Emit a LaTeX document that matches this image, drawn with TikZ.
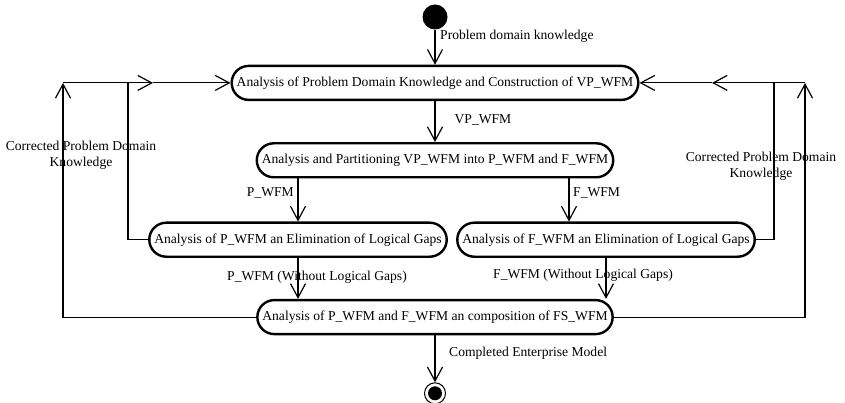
\documentclass[tikz,border=0pt]{standalone}
\usepackage{fontspec}
\setmainfont{Liberation Serif}
\usetikzlibrary{positioning, arrows.meta}

\begin{document}
\begin{tikzpicture}[x=1pt, y=1pt,
  act/.style={draw, line width=2.4pt, rounded corners=17pt, minimum height=34pt, inner xsep=5pt, font=\fontsize{13.6}{16}\selectfont},
  flow/.style={line width=1.2pt, -{Straight Barb[length=14pt, width=15pt]}},
  link/.style={line width=1.2pt},
  lbl/.style={inner sep=0pt, font=\fontsize{13.6}{16}\selectfont, align=center}]
  \useasboundingbox (0,0) rectangle (845,-403);

  \node[circle, fill, minimum size=25pt, inner sep=0pt] (start) at (435,-17) {};
  \node[act, below=35pt of start] (vp) {Analysis of Problem Domain Knowledge and Construction of VP\_WFM};
  \node[act, below=41pt of vp] (part) {Analysis and Partitioning VP\_WFM into P\_WFM and F\_WFM};
  \node[act, below=43pt of part, xshift=-137pt] (pgap) {Analysis of P\_WFM an Elimination of Logical Gaps};
  \node[act, below=43pt of part, xshift=171pt] (fgap) {Analysis of F\_WFM an Elimination of Logical Gaps};
  \coordinate (mid) at (pgap.south -| part.south);
  \node[act, below=41pt of mid] (fs) {Analysis of P\_WFM and F\_WFM an composition of FS\_WFM};
  \node[circle, draw, line width=1pt, minimum size=21pt, inner sep=0pt, below=47pt of fs,
        path picture={\fill (path picture bounding box.center) circle (7pt);}] (stop) {};

  % side corners
  \coordinate (lx) at (63,0);
  \coordinate (lix) at (128,0);
  \coordinate (lmid) at (153,0);
  \coordinate (rx) at (805,0);
  \coordinate (rix) at (774,0);
  \coordinate (rmid) at (712,0);
  \coordinate (fin) at ([xshift=-37pt]fgap.north);

  \draw[flow] (start) -- (vp);
  \draw[flow] (vp) -- (part);
  \draw[flow] (part.south -| pgap) -- (pgap);
  \draw[flow] (part.south -| fin) -- (fin);
  \draw[flow] (pgap.south) -- (pgap.south |- fs.north);
  \draw[flow] (fgap.south) -- (fgap.south |- fs.north);
  \draw[flow] (fs) -- (stop);

  \draw[flow] (fs.west) -| (lx |- vp.west);
  \draw[link] (pgap.west) -| (lix |- vp.west);
  \draw[flow] (lx |- vp.west) -- (lmid |- vp.west);
  \draw[flow] (lmid |- vp.west) -- (vp.west);

  \draw[flow] (fs.east) -| (rx |- vp.east);
  \draw[link] (fgap.east) -| (rix |- vp.east);
  \draw[flow] (rx |- vp.east) -- (rmid |- vp.east);
  \draw[flow] (rmid |- vp.east) -- (vp.east);

  \node[lbl, anchor=west] (pdk) at (440,-36) {Problem domain knowledge};
  \node[lbl] (vpl) at (483,-120) {VP\_WFM};
  \node[lbl, anchor=east] (pl) at (294,-193) {P\_WFM};
  \node[lbl, anchor=west] (fl) at (573,-193) {F\_WFM};
  \node[lbl] (pwl) at (317,-277) {P\_WFM (Without Logical Gaps)};
  \node[lbl] (fwl) at (583,-275) {F\_WFM (Without Logical Gaps)};
  \node[lbl, anchor=west] (cem) at (449,-353) {Completed Enterprise Model};
  \node[lbl] (lcor) at (81,-155) {Corrected Problem Domain\\Knowledge};
  \node[lbl] (rcor) at (761,-166) {Corrected Problem Domain\\Knowledge};
\end{tikzpicture}
\end{document}
